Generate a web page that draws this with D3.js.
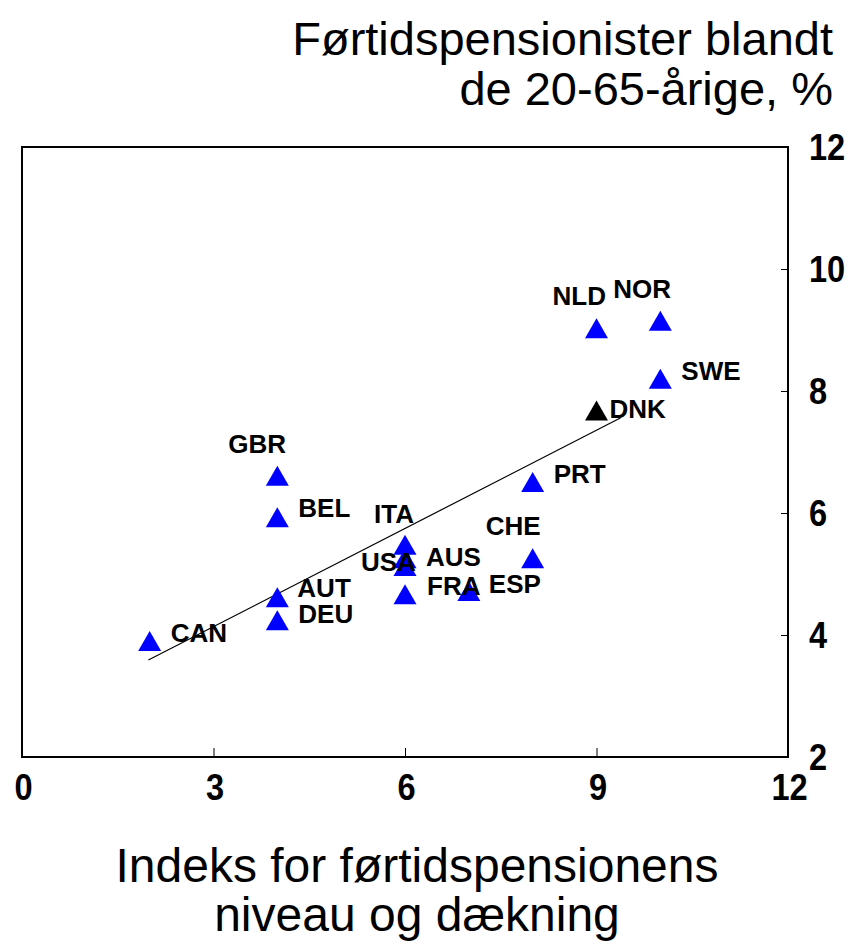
<!DOCTYPE html>
<html>
<head>
<meta charset="utf-8">
<script src="https://cdn.jsdelivr.net/npm/d3@7"></script>
<style>
  body { margin: 0; background: #fff; }
  svg text { font-family: "Liberation Sans", Arial, sans-serif; }
</style>
</head>
<body>
<div id="chart"></div>
<script>
// data
const countries = ["CAN","DEU","AUT","BEL","GBR","ITA","USA","AUS","FRA","ESP","CHE","PRT","DNK","NLD","NOR","SWE"];
const indexValues = [2, 4, 4, 4, 4, 6, 6, 6, 6, 7, 8, 8, 9, 9, 10, 10];
const shareValues = [3.90, 4.24, 4.62, 5.93, 6.61, 5.48, 5.26, 5.13, 4.67, 4.72, 5.26, 6.51, 7.68, 9.03, 9.15, 8.20];
const highlight = ["DNK"];
const trendX = [1.98, 9.38];
const trendY = [3.59, 7.56];
const xTicks = [0, 3, 6, 9, 12];
const yTicks = [2, 4, 6, 8, 10, 12];
const titleLines = ["Førtidspensionister blandt", "de 20-65-årige, %"];
const xTitleLines = ["Indeks for førtidspensionens", "niveau og dækning"];

// where each label sits relative to its marker
const labelPos = {
  CAN: [21, 1], DEU: [21, 3], AUT: [20, 0], BEL: [21, 0], GBR: [-49, -23],
  ITA: [-31, -22], USA: [-44, 13], AUS: [21, 0], FRA: [22, 1], ESP: [20, 2],
  CHE: [-47, -23], PRT: [21, 1], DNK: [13, 7], NLD: [-44, -23], NOR: [-47, -23], SWE: [21, 1]
};

const W = 853, H = 945;
const margin = {top: 147, right: 65, bottom: 188, left: 22};

const svg = d3.select("#chart").append("svg")
  .attr("width", W)
  .attr("height", H);

const x = d3.scaleLinear().domain([0, 12]).range([margin.left, W - margin.right]);
const y = d3.scaleLinear().domain([2, 12]).range([H - margin.bottom, margin.top]);

// frame
svg.append("rect")
  .attr("x", x(0)).attr("y", y(12))
  .attr("width", x(12) - x(0)).attr("height", y(2) - y(12))
  .attr("fill", "none").attr("stroke", "#000").attr("stroke-width", 2);

// x axis (ticks inward)
const xAxis = d3.axisBottom(x).tickValues(xTicks).tickSizeInner(-9).tickSizeOuter(0).tickPadding(0).tickFormat(d3.format("d"));
const gx = svg.append("g").attr("transform", `translate(0,${y(2)})`).call(xAxis);
gx.select(".domain").remove();
gx.selectAll(".tick line").attr("stroke", "#000").attr("stroke-width", 1);
gx.selectAll(".tick text").text(null);
gx.selectAll(".tick").append("text")
  .attr("transform", "translate(1,43) scale(0.88,1)")
  .attr("text-anchor", "middle")
  .attr("fill", "#000")
  .style("font-size", "37px").style("font-weight", "bold")
  .text(d => d);

// y axis on the right (ticks inward)
const yAxis = d3.axisRight(y).tickValues(yTicks).tickSizeInner(-7).tickSizeOuter(0).tickPadding(0).tickFormat(d3.format("d"));
const gy = svg.append("g").attr("transform", `translate(${x(12)},0)`).call(yAxis);
gy.select(".domain").remove();
gy.selectAll(".tick line").attr("stroke", "#000").attr("stroke-width", 1);
gy.selectAll(".tick text").text(null);
gy.selectAll(".tick").append("text")
  .attr("transform", "translate(21,12) scale(0.88,1)")
  .attr("fill", "#000")
  .style("font-size", "37px").style("font-weight", "bold")
  .text(d => d);

// trend line
svg.append("line")
  .attr("x1", x(trendX[0])).attr("y1", y(trendY[0]))
  .attr("x2", x(trendX[1])).attr("y2", y(trendY[1]))
  .attr("stroke", "#000").attr("stroke-width", 1.2);

// points
const pts = countries.map((c, i) => ({name: c, xv: indexValues[i], yv: shareValues[i]}));
const tri = (w, h) => `M0,${-h/2}L${w/2},${h/2}L${-w/2},${h/2}Z`;

svg.append("g").selectAll("path")
  .data(pts)
  .join("path")
  .attr("d", tri(23, 20))
  .attr("transform", d => `translate(${x(d.xv)},${y(d.yv)})`)
  .attr("fill", d => highlight.includes(d.name) ? "#000" : "#0000ff");

// labels
svg.append("g").selectAll("text")
  .data(pts)
  .join("text")
  .attr("x", d => x(d.xv) + labelPos[d.name][0])
  .attr("y", d => y(d.yv) + labelPos[d.name][1])
  .attr("fill", "#000")
  .style("font-size", "26px").style("font-weight", "bold")
  .text(d => d.name);

// titles
svg.append("g").selectAll("text")
  .data(titleLines)
  .join("text")
  .attr("x", 833)
  .attr("y", (d, i) => 55 + i * 50)
  .attr("text-anchor", "end")
  .attr("fill", "#000")
  .style("font-size", "47px")
  .text(d => d);

svg.append("g").selectAll("text")
  .data(xTitleLines)
  .join("text")
  .attr("x", 417)
  .attr("y", (d, i) => 882 + i * 49)
  .attr("text-anchor", "middle")
  .attr("fill", "#000")
  .style("font-size", "48px")
  .text(d => d);
</script>
</body>
</html>
